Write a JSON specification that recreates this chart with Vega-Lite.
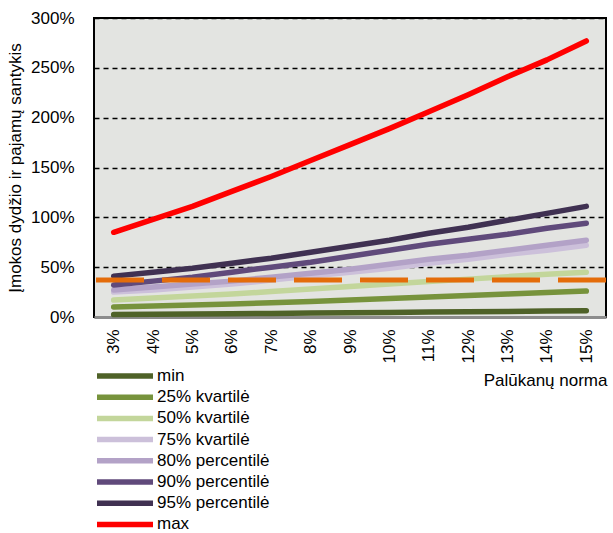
{
  "$schema": "https://vega.github.io/schema/vega-lite/v6.json",
  "autosize": "none",
  "width": 512,
  "height": 299,
  "padding": {"left": 94, "top": 18, "right": 7, "bottom": 216},
  "background": "white",
  "config": {
    "font": "Liberation Sans",
    "view": {"fill": "#e3e4e1", "stroke": "black", "strokeWidth": 2}
  },
  "layer": [
    {
      "data": {
        "values": [
          {"rate": "3%", "series": "min", "value": 2.4},
          {"rate": "4%", "series": "min", "value": 2.7},
          {"rate": "5%", "series": "min", "value": 3.0},
          {"rate": "6%", "series": "min", "value": 3.3},
          {"rate": "7%", "series": "min", "value": 3.6},
          {"rate": "8%", "series": "min", "value": 3.9},
          {"rate": "9%", "series": "min", "value": 4.3},
          {"rate": "10%", "series": "min", "value": 4.6},
          {"rate": "11%", "series": "min", "value": 5.0},
          {"rate": "12%", "series": "min", "value": 5.3},
          {"rate": "13%", "series": "min", "value": 5.6},
          {"rate": "14%", "series": "min", "value": 6.0},
          {"rate": "15%", "series": "min", "value": 6.3},
          {"rate": "3%", "series": "25% kvartilė", "value": 10},
          {"rate": "4%", "series": "25% kvartilė", "value": 11},
          {"rate": "5%", "series": "25% kvartilė", "value": 12},
          {"rate": "6%", "series": "25% kvartilė", "value": 13},
          {"rate": "7%", "series": "25% kvartilė", "value": 14.2},
          {"rate": "8%", "series": "25% kvartilė", "value": 15.5},
          {"rate": "9%", "series": "25% kvartilė", "value": 17},
          {"rate": "10%", "series": "25% kvartilė", "value": 18.5},
          {"rate": "11%", "series": "25% kvartilė", "value": 20},
          {"rate": "12%", "series": "25% kvartilė", "value": 21.5},
          {"rate": "13%", "series": "25% kvartilė", "value": 23},
          {"rate": "14%", "series": "25% kvartilė", "value": 24.5},
          {"rate": "15%", "series": "25% kvartilė", "value": 26},
          {"rate": "3%", "series": "50% kvartilė", "value": 17},
          {"rate": "4%", "series": "50% kvartilė", "value": 19},
          {"rate": "5%", "series": "50% kvartilė", "value": 21},
          {"rate": "6%", "series": "50% kvartilė", "value": 23},
          {"rate": "7%", "series": "50% kvartilė", "value": 25.5},
          {"rate": "8%", "series": "50% kvartilė", "value": 28},
          {"rate": "9%", "series": "50% kvartilė", "value": 30.5},
          {"rate": "10%", "series": "50% kvartilė", "value": 33},
          {"rate": "11%", "series": "50% kvartilė", "value": 35.5},
          {"rate": "12%", "series": "50% kvartilė", "value": 38},
          {"rate": "13%", "series": "50% kvartilė", "value": 40.5},
          {"rate": "14%", "series": "50% kvartilė", "value": 43},
          {"rate": "15%", "series": "50% kvartilė", "value": 45},
          {"rate": "3%", "series": "75% kvartilė", "value": 25},
          {"rate": "4%", "series": "75% kvartilė", "value": 27},
          {"rate": "5%", "series": "75% kvartilė", "value": 30},
          {"rate": "6%", "series": "75% kvartilė", "value": 33},
          {"rate": "7%", "series": "75% kvartilė", "value": 37},
          {"rate": "8%", "series": "75% kvartilė", "value": 41},
          {"rate": "9%", "series": "75% kvartilė", "value": 45},
          {"rate": "10%", "series": "75% kvartilė", "value": 49},
          {"rate": "11%", "series": "75% kvartilė", "value": 54},
          {"rate": "12%", "series": "75% kvartilė", "value": 58},
          {"rate": "13%", "series": "75% kvartilė", "value": 63},
          {"rate": "14%", "series": "75% kvartilė", "value": 67},
          {"rate": "15%", "series": "75% kvartilė", "value": 72},
          {"rate": "3%", "series": "80% percentilė", "value": 27},
          {"rate": "4%", "series": "80% percentilė", "value": 30},
          {"rate": "5%", "series": "80% percentilė", "value": 33},
          {"rate": "6%", "series": "80% percentilė", "value": 36},
          {"rate": "7%", "series": "80% percentilė", "value": 40},
          {"rate": "8%", "series": "80% percentilė", "value": 44},
          {"rate": "9%", "series": "80% percentilė", "value": 48},
          {"rate": "10%", "series": "80% percentilė", "value": 53},
          {"rate": "11%", "series": "80% percentilė", "value": 58},
          {"rate": "12%", "series": "80% percentilė", "value": 62},
          {"rate": "13%", "series": "80% percentilė", "value": 67},
          {"rate": "14%", "series": "80% percentilė", "value": 72},
          {"rate": "15%", "series": "80% percentilė", "value": 77},
          {"rate": "3%", "series": "90% percentilė", "value": 32},
          {"rate": "4%", "series": "90% percentilė", "value": 36},
          {"rate": "5%", "series": "90% percentilė", "value": 40},
          {"rate": "6%", "series": "90% percentilė", "value": 45},
          {"rate": "7%", "series": "90% percentilė", "value": 50},
          {"rate": "8%", "series": "90% percentilė", "value": 55},
          {"rate": "9%", "series": "90% percentilė", "value": 61},
          {"rate": "10%", "series": "90% percentilė", "value": 67},
          {"rate": "11%", "series": "90% percentilė", "value": 73},
          {"rate": "12%", "series": "90% percentilė", "value": 78},
          {"rate": "13%", "series": "90% percentilė", "value": 83},
          {"rate": "14%", "series": "90% percentilė", "value": 89},
          {"rate": "15%", "series": "90% percentilė", "value": 94},
          {"rate": "3%", "series": "95% percentilė", "value": 41},
          {"rate": "4%", "series": "95% percentilė", "value": 45},
          {"rate": "5%", "series": "95% percentilė", "value": 49},
          {"rate": "6%", "series": "95% percentilė", "value": 54},
          {"rate": "7%", "series": "95% percentilė", "value": 59},
          {"rate": "8%", "series": "95% percentilė", "value": 65},
          {"rate": "9%", "series": "95% percentilė", "value": 71},
          {"rate": "10%", "series": "95% percentilė", "value": 77},
          {"rate": "11%", "series": "95% percentilė", "value": 84},
          {"rate": "12%", "series": "95% percentilė", "value": 90},
          {"rate": "13%", "series": "95% percentilė", "value": 97},
          {"rate": "14%", "series": "95% percentilė", "value": 104},
          {"rate": "15%", "series": "95% percentilė", "value": 111},
          {"rate": "3%", "series": "max", "value": 85},
          {"rate": "4%", "series": "max", "value": 98},
          {"rate": "5%", "series": "max", "value": 111},
          {"rate": "6%", "series": "max", "value": 126},
          {"rate": "7%", "series": "max", "value": 141},
          {"rate": "8%", "series": "max", "value": 157},
          {"rate": "9%", "series": "max", "value": 173},
          {"rate": "10%", "series": "max", "value": 189},
          {"rate": "11%", "series": "max", "value": 206},
          {"rate": "12%", "series": "max", "value": 223},
          {"rate": "13%", "series": "max", "value": 241},
          {"rate": "14%", "series": "max", "value": 258},
          {"rate": "15%", "series": "max", "value": 277}
        ]
      },
      "mark": {"type": "line", "strokeWidth": 5.5, "strokeCap": "round", "strokeJoin": "round"},
      "encoding": {
        "x": {
          "field": "rate",
          "type": "ordinal",
          "sort": ["3%", "4%", "5%", "6%", "7%", "8%", "9%", "10%", "11%", "12%", "13%", "14%", "15%"],
          "scale": {"type": "point", "padding": 0.5},
          "axis": {
            "title": "Palūkanų norma",
            "titleFontSize": 17,
            "titleFontWeight": "normal",
            "titleColor": "black",
            "titleAnchor": "end",
            "titleAlign": "right",
            "titleBaseline": "middle",
            "titleX": 513,
            "titleY": 63,
            "labelAngle": -90,
            "labelFontSize": 17,
            "labelColor": "black",
            "labelPadding": 12,
            "ticks": false,
            "domain": true,
            "domainColor": "#8c8c8c",
            "domainWidth": 3,
            "grid": false
          }
        },
        "y": {
          "field": "value",
          "type": "quantitative",
          "scale": {"domain": [0, 300], "nice": false},
          "axis": {
            "title": "Įmokos dydžio ir pajamų santykis",
            "titleFontSize": 17,
            "titleFontWeight": "normal",
            "titleColor": "black",
            "titlePadding": 6,
            "values": [0, 50, 100, 150, 200, 250, 300],
            "labelExpr": "datum.value + '%'",
            "labelFontSize": 17,
            "labelColor": "black",
            "labelPadding": 20,
            "ticks": false,
            "domain": false,
            "grid": true,
            "gridColor": "black",
            "gridDash": [5, 4],
            "gridWidth": 1.5
          }
        },
        "color": {
          "field": "series",
          "type": "nominal",
          "scale": {
            "domain": ["min", "25% kvartilė", "50% kvartilė", "75% kvartilė", "80% percentilė", "90% percentilė", "95% percentilė", "max"],
            "range": ["#4f6228", "#77933c", "#c3d69b", "#ccc0da", "#b3a2c7", "#604a7b", "#403152", "#ff0000"]
          },
          "legend": {
            "orient": "none",
            "legendX": 21,
            "legendY": 348,
            "title": null,
            "padding": 0,
            "symbolType": "M-4,0H4",
            "symbolSize": 196,
            "symbolStrokeWidth": 5.5,
            "labelFontSize": 17,
            "labelColor": "black",
            "labelOffset": 22,
            "rowPadding": -0.8,
            "labelLimit": 300
          }
        }
      }
    },
    {
      "data": {"values": [{"threshold": 37}]},
      "mark": {"type": "rule", "color": "#e46c0a", "strokeWidth": 5, "strokeDash": [48, 18], "strokeCap": "butt"},
      "encoding": {
        "y": {"field": "threshold", "type": "quantitative"}
      }
    }
  ]
}
